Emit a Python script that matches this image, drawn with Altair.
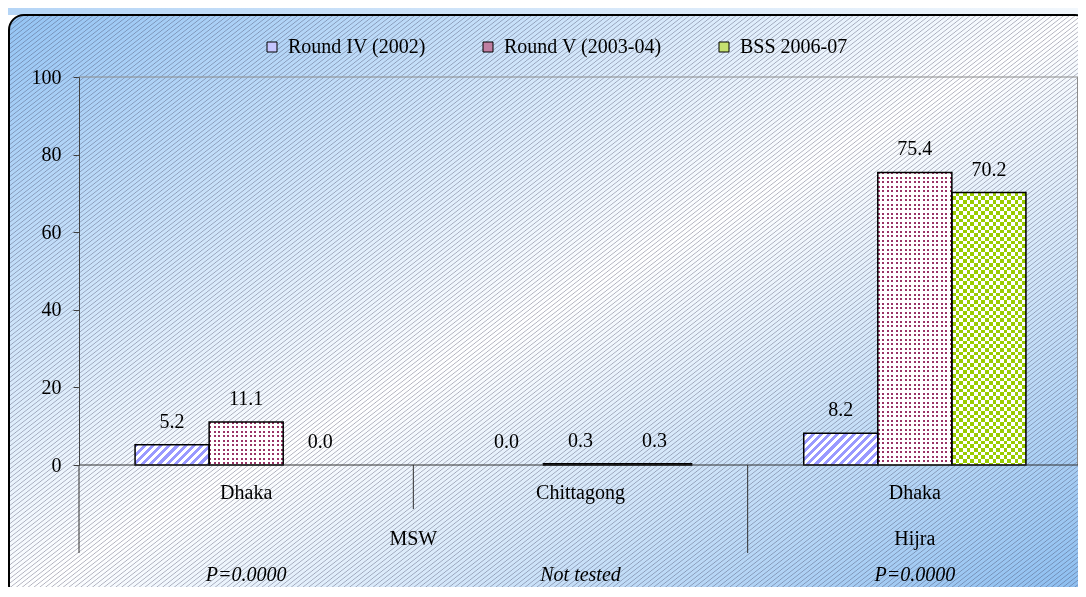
import math
import altair as alt
import pandas as pd

# ---------------- data ----------------
groups = ["MSW", "MSW", "Hijra"]
sites = ["Dhaka", "Chittagong", "Dhaka"]
p_values = ["P=0.0000", "Not tested", "P=0.0000"]
series = ["Round IV (2002)", "Round V (2003-04)", "BSS 2006-07"]
round_iv = [5.2, 0.0, 8.2]
round_v = [11.1, 0.3, 75.4]
bss = [0.0, 0.3, 70.2]
y_ticks = [0, 20, 40, 60, 80, 100]

# ---------------- layout / style ----------------
PLOT_W, PLOT_H = 1003, 388      # scale ranges
VIEW_W = 999                    # visible width (page is only 1086 wide)
Y_MAX = 100
FONT = "Liberation Serif"
FS = 20
OUTER_PAD = 0.757
legend_colors = ["#c6c6ff", "#c07fa2", "#c4e070"]

cols = [f"{g}|{s}" for g, s in zip(groups, sites)]
values_by_series = [round_iv, round_v, bss]

rows = []
for s, vals in zip(series, values_by_series):
    for c, v in zip(cols, vals):
        rows.append({"col": c, "series": s, "value": v})
bars_df = pd.DataFrame(rows)

col_rows = []
for i, (c, g, s, p) in enumerate(zip(cols, groups, sites, p_values)):
    col_rows.append({"col": c, "group": g, "site": s, "pval": p,
                     "start": bool(i == 0 or groups[i - 1] != g)})
cols_df = pd.DataFrame(col_rows)
one = pd.DataFrame({"k": [0]})


# ---------------- gradient pattern helpers ----------------
def periodic(n, pattern):
    stops = []
    k = 0
    while True:
        for f, col in pattern:
            o = (k + f) / n
            if o >= 1:
                stops.append({"offset": 1, "color": col})
                return stops
            stops.append({"offset": round(o, 5), "color": col})
        k += 1


def angled(w, h, theta_deg, period, pattern):
    t = math.radians(theta_deg)
    s, c = math.sin(t), math.cos(t)
    a = (s / h + c / w) / ((s / h) ** 2 + (c / w) ** 2)
    n = (w * s + h * c) / period
    return {"gradient": "linear", "x1": 0, "y1": 0,
            "x2": round(a * s / h, 6), "y2": round(a * c / w, 6),
            "stops": periodic(n, pattern)}


def vstripes(w, period, pattern):
    return {"gradient": "linear", "x1": 0, "y1": 0, "x2": 1, "y2": 0,
            "stops": periodic(w / period, pattern)}


def hstripes(h, period, pattern):
    return {"gradient": "linear", "x1": 0, "y1": 0, "x2": 0, "y2": 1,
            "stops": periodic(h / period, pattern)}


def hard(on, off, frac=0.5):
    return [(0, on), (frac, on), (frac, off), (1, off)]


T_W = "rgba(255,255,255,0)"
T_K = "rgba(0,0,0,0)"

# ---------------- encodings ----------------
def X(band=None):
    kw = {}
    if band is not None:
        kw["bandPosition"] = band
    return alt.X("col:N", scale=alt.Scale(domain=cols, range=[0, PLOT_W],
                                          paddingInner=0, paddingOuter=0),
                 axis=None, **kw)


XO = alt.XOffset("series:N", scale=alt.Scale(domain=series, paddingInner=0,
                                             paddingOuter=OUTER_PAD))
Y = alt.Y("value:Q", title=None,
          scale=alt.Scale(domain=[0, Y_MAX], nice=False, zero=True),
          axis=alt.Axis(values=y_ticks, grid=False, labelFont=FONT, labelFontSize=FS,
                        labelColor="black", domainColor="#404040", tickColor="#404040",
                        tickSize=6, labelPadding=12, zindex=1, domainWidth=1, tickWidth=1))

layers = []

# ---------------- background decoration ----------------
BG = dict(x=alt.value(-70), x2=alt.value(1011), y=alt.value(-62), y2=alt.value(523))
bg_grad = {"gradient": "linear", "x1": 0, "y1": 0, "x2": 1, "y2": 1,
           "stops": [{"offset": 0, "color": "#94c4f4"},
                     {"offset": 0.5, "color": "#ffffff"},
                     {"offset": 1, "color": "#8abdf0"}]}
layers.append(alt.Chart(one).mark_rect(fill=bg_grad, cornerRadius=15).encode(**BG))
line_c = "rgba(60,60,90,0.40)"
line_t = "rgba(60,60,90,0)"
bg_hatch = angled(1081, 585, 38, 3.6,
                  [(0, line_t), (0.3, line_t), (0.5, line_c), (0.7, line_t), (1, line_t)])
layers.append(alt.Chart(one).mark_rect(fill=bg_hatch, cornerRadius=15).encode(**BG))
band_grad = {"gradient": "linear", "x1": 0, "y1": 0, "x2": 1, "y2": 0,
             "stops": [{"offset": 0, "color": "#b5d5f6"},
                       {"offset": 1, "color": "#f2f7fc"}]}
layers.append(alt.Chart(one).mark_rect(fill=band_grad).encode(
    x=alt.value(-71), x2=alt.value(1007), y=alt.value(-69), y2=alt.value(-62)))
layers.append(alt.Chart(one).mark_rect(fill="transparent", stroke="black", strokeWidth=2,
                                       cornerRadius=15).encode(**BG))

# plot border (top and right)
layers.append(alt.Chart(one).mark_rule(color="#8c8c8c", strokeWidth=1).encode(
    x=alt.value(0), x2=alt.value(VIEW_W), y=alt.value(0)))
layers.append(alt.Chart(one).mark_rule(color="#8c8c8c", strokeWidth=1).encode(
    x=alt.value(VIEW_W - 0.5), y=alt.value(0), y2=alt.value(PLOT_H)))

# ---------------- bars ----------------
nz = alt.datum.value > 0
base = alt.Chart(bars_df).transform_filter(nz).mark_bar(strokeWidth=0).encode(
    x=X(), xOffset=XO, y=Y,
    color=alt.Color("series:N", scale=alt.Scale(domain=series, range=legend_colors),
                    legend=alt.Legend(orient="none", legendX=183, legendY=-40,
                                      direction="horizontal", title=None,
                                      symbolType="square", symbolSize=100,
                                      symbolStrokeColor="black", symbolStrokeWidth=1,
                                      symbolOpacity=1, labelFont=FONT, labelFontSize=FS,
                                      labelColor="black", labelOffset=6,
                                      columnPadding=52, padding=0, zindex=1)))
layers.append(base)

step = PLOT_W / len(cols)
bar_w = step / (len(series) + 2 * OUTER_PAD)

for si, (s, vals) in enumerate(zip(series, values_by_series)):
    for c, v in zip(cols, vals):
        h = v / Y_MAX * PLOT_H
        if h < 3:
            continue
        sel = (alt.datum.col == c) & (alt.datum.series == s)
        fills = []
        if si == 0:
            fills.append((angled(bar_w, h, 45, 5.8, hard("#9999ff", "white", 0.5)), None))
        elif si == 1:
            fills.append(("#993366", None))
            fills.append((vstripes(bar_w, 4.5, hard(T_W, "white", 0.45)), None))
            fills.append((hstripes(h, 4.5, hard(T_W, "white", 0.45)), None))
        else:
            fills.append(("white", None))
            fills.append((vstripes(bar_w, 7.4, hard("black", T_K, 0.5)), None))
            fills.append((hstripes(h, 7.4, hard("white", T_W, 0.5)), "difference"))
            fills.append(("#99cc00", "screen"))
        for f, blend in fills:
            kw = {"fill": f, "strokeWidth": 0}
            if blend:
                kw["blend"] = blend
            layers.append(alt.Chart(bars_df).transform_filter(sel).mark_bar(**kw).encode(
                x=X(), xOffset=XO, y=Y))

layers.append(alt.Chart(bars_df).transform_filter(nz).mark_bar(
    fill="transparent", stroke="black", strokeWidth=1.5).encode(x=X(), xOffset=XO, y=Y))

layers.append(alt.Chart(one).mark_rule(color="#303030", strokeWidth=1).encode(
    x=alt.value(0), x2=alt.value(VIEW_W), y=alt.value(PLOT_H)))

# value labels
layers.append(alt.Chart(bars_df).transform_calculate(
    label="format(datum.value, '.1f')").mark_text(
    font=FONT, fontSize=FS, color="black", baseline="alphabetic", dy=-17).encode(
    x=X(), xOffset=XO, y=Y, text="label:N"))

# ---------------- category axis (multi-level) ----------------
TXT = dict(font=FONT, fontSize=FS, color="black", baseline="alphabetic")
layers.append(alt.Chart(cols_df).mark_text(**TXT).encode(
    x=X(0.5), y=alt.value(422), text="site:N"))
layers.append(alt.Chart(cols_df).mark_text(fontStyle="italic", **TXT).encode(
    x=X(0.5), y=alt.value(504), text="pval:N"))

for g in dict.fromkeys(groups):
    ncols = groups.count(g)
    first = cols[groups.index(g)]
    layers.append(alt.Chart(cols_df).transform_filter(alt.datum.col == first).mark_text(
        **TXT).encode(x=X(ncols / 2), y=alt.value(468), text="group:N"))

layers.append(alt.Chart(cols_df).transform_filter(alt.datum.start == True).mark_rule(
    color="#303030", strokeWidth=1).encode(x=X(0), y=alt.value(PLOT_H), y2=alt.value(476)))
layers.append(alt.Chart(cols_df).transform_filter(alt.datum.start == False).mark_rule(
    color="#303030", strokeWidth=1).encode(x=X(0), y=alt.value(PLOT_H), y2=alt.value(432)))

chart = alt.layer(*layers).properties(
    width=VIEW_W, height=PLOT_H,
    padding={"left": 71, "top": 69, "right": 0, "bottom": 122},
    autosize=alt.AutoSizeParams(type="none"),
    background="white",
).configure_view(stroke=None)

chart.save("out.html", embed_options={"renderer": "svg", "actions": False})
